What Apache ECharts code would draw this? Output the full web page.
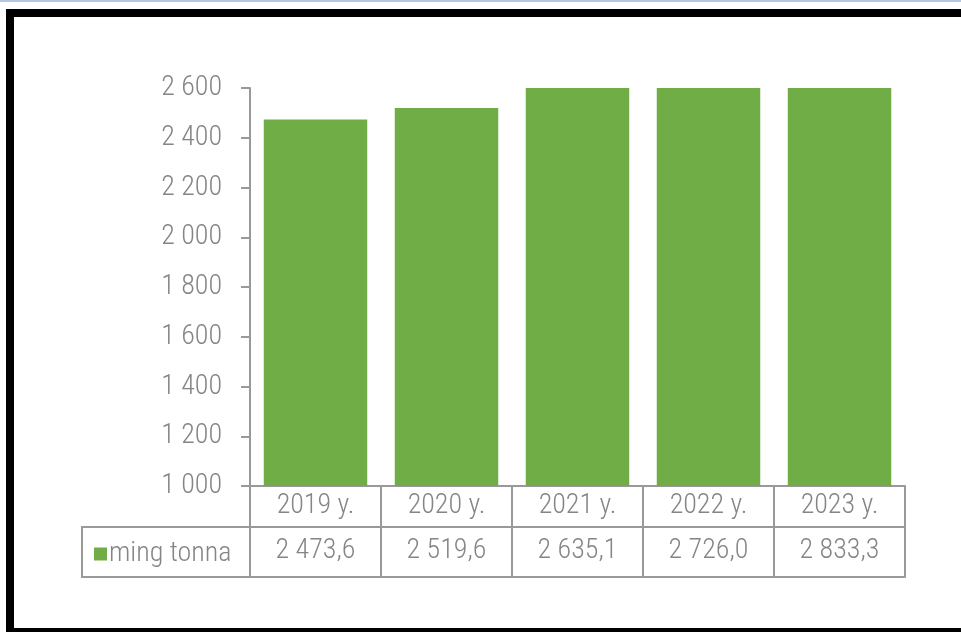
<!DOCTYPE html>
<html>
<head>
<meta charset="utf-8">
<script src="https://cdn.jsdelivr.net/npm/echarts@6/dist/echarts.min.js"></script>
<style>
  html, body { margin: 0; padding: 0; background: #fff; width: 961px; height: 632px; overflow: hidden; }
  #topline { position: absolute; left: 0; top: 0; width: 961px; height: 2px; background: #b4c6e7; }
  #frame { position: absolute; left: 6px; top: 9px; width: 1000px; height: 627px; box-sizing: border-box; border: 8px solid #000; }
  #chart { position: absolute; left: 0; top: 0; width: 961px; height: 632px; }
</style>
</head>
<body>
<div id="topline"></div>
<div id="frame"></div>
<div id="chart"></div>
<script>
const categories = ['2019 y.', '2020 y.', '2021 y.', '2022 y.', '2023 y.'];
const values = [2473.6, 2519.6, 2635.1, 2726.0, 2833.3];
const seriesName = 'ming tonna';
const yMin = 1000, yMax = 2600, yStep = 200;

const FONT = "'Roboto Condensed', 'Liberation Sans Narrow', 'DejaVu Sans Condensed', Roboto, sans-serif";
const FS = 28;
const FW = 300;
const TXT = '#858585';
const LINE = '#999999';

function fmtThousands(n) {
  return String(n).replace(/\B(?=(\d{3})+(?!\d))/g, ' ');
}
function fmtValue(v) {
  const s = v.toFixed(1).split('.');
  return fmtThousands(s[0]) + ',' + s[1];
}

const chart = echarts.init(document.getElementById('chart'), null, { renderer: 'canvas' });
const option = {
  animation: false,
  backgroundColor: 'transparent',
  grid: { left: 250, right: 56, top: 88, bottom: 146, containLabel: false },
  legend: {
    data: [seriesName],
    left: 89, top: 535,
    itemWidth: 13, itemHeight: 13, itemGap: 0,
    icon: 'rect',
    textStyle: { color: TXT, fontSize: FS, fontWeight: FW, fontFamily: FONT, padding: [0, 0, 0, -3] }
  },
  xAxis: [
    {
      type: 'category', data: categories, position: 'bottom',
      axisLine: { show: true, lineStyle: { color: LINE, width: 2 } },
      axisTick: { show: true, length: 91, lineStyle: { color: LINE, width: 2 } },
      axisLabel: { color: TXT, fontSize: FS, fontWeight: FW, fontFamily: FONT, margin: 6, lineHeight: FS }
    },
    {
      type: 'category', data: categories, position: 'bottom', offset: 41,
      axisLine: { show: true, lineStyle: { color: LINE, width: 2 } },
      axisTick: { show: false },
      axisLabel: {
        color: TXT, fontSize: FS, fontWeight: FW, fontFamily: FONT, margin: 10, lineHeight: FS,
        formatter: function (val, idx) { return fmtValue(values[idx]); }
      }
    },
    {
      type: 'category', data: categories, position: 'bottom', offset: 91,
      axisLine: { show: true, lineStyle: { color: LINE, width: 2 } },
      axisTick: { show: false },
      axisLabel: { show: false }
    }
  ],
  yAxis: {
    type: 'value', min: yMin, max: yMax, interval: yStep,
    axisLine: { show: true, lineStyle: { color: LINE, width: 2 } },
    axisTick: { show: true, length: 9, lineStyle: { color: LINE, width: 2 } },
    splitLine: { show: false },
    axisLabel: {
      color: TXT, fontSize: FS, fontWeight: FW, fontFamily: FONT, margin: 28,
      formatter: function (v) { return fmtThousands(v); }
    }
  },
  graphic: [
    {
      type: 'rect', z: 0,
      shape: { x: 82, y: 527, width: 168, height: 50 },
      style: { fill: 'none', stroke: LINE, lineWidth: 2 }
    }
  ],
  series: [
    {
      name: seriesName, type: 'bar', data: values, xAxisIndex: 0,
      barCategoryGap: '21%', clip: true,
      itemStyle: { color: '#70ad47' }
    }
  ]
};
chart.setOption(option);
</script>
</body>
</html>
